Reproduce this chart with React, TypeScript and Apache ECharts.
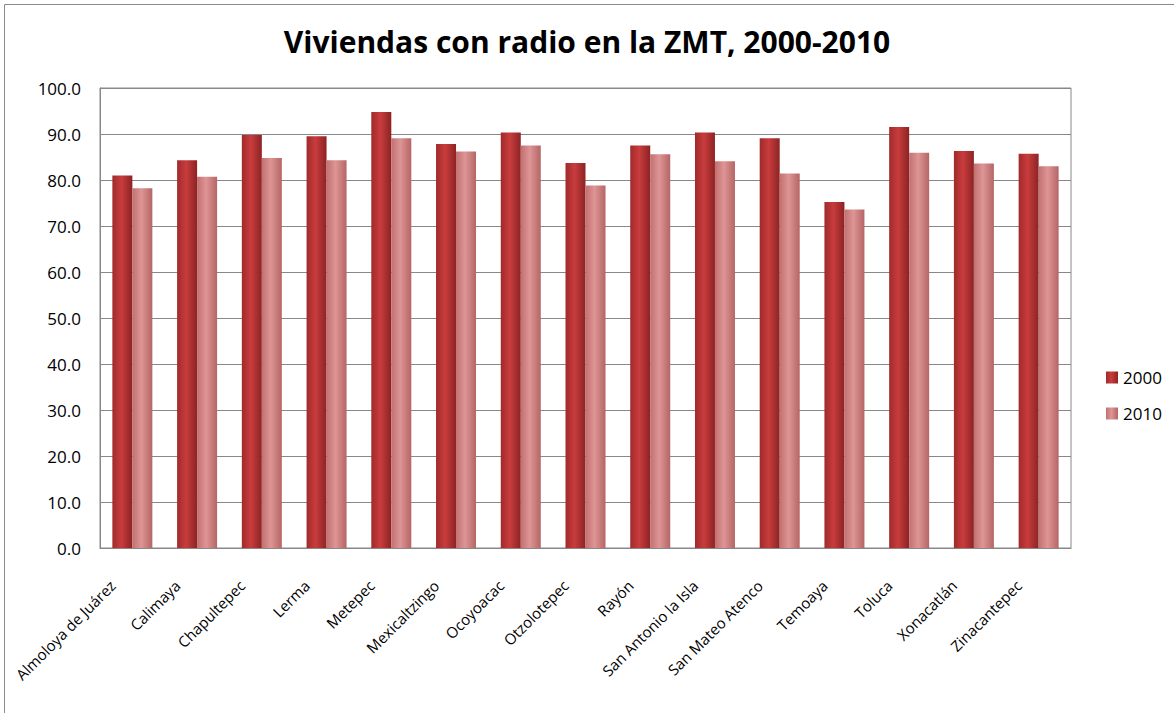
import React, { useEffect, useRef } from "react";
import * as echarts from "echarts";

const categories = [
  "Almoloya de Juárez",
  "Calimaya",
  "Chapultepec",
  "Lerma",
  "Metepec",
  "Mexicaltzingo",
  "Ocoyoacac",
  "Otzolotepec",
  "Rayón",
  "San Antonio la Isla",
  "San Mateo Atenco",
  "Temoaya",
  "Toluca",
  "Xonacatlán",
  "Zinacantepec",
];
const values2000 = [81.0, 84.3, 89.8, 89.5, 94.8, 87.8, 90.3, 83.7, 87.5, 90.3, 89.1, 75.2, 91.5, 86.3, 85.7];
const values2010 = [78.2, 80.7, 84.8, 84.3, 89.1, 86.2, 87.5, 78.8, 85.6, 84.1, 81.4, 73.6, 85.9, 83.6, 83.0];
const seriesNames = ["2000", "2010"];

const FONT = "'Open Sans', 'Liberation Sans', sans-serif";

export default function App() {
  const ref = useRef<HTMLDivElement>(null);
  useEffect(() => {
    if (!ref.current) return;
    const chart = echarts.init(ref.current, null, { renderer: "svg" });
    const grad = (a: string, b: string, c: string) =>
      new echarts.graphic.LinearGradient(0, 0, 1, 0, [
        { offset: 0, color: a },
        { offset: 0.45, color: b },
        { offset: 1, color: c },
      ]);
    chart.setOption({
      animation: false,
      backgroundColor: "#ffffff",
      textStyle: { fontFamily: FONT },
      title: {
        text: "Viviendas con radio en la ZMT, 2000-2010",
        left: "center",
        top: 21,
        textStyle: { fontFamily: FONT, fontSize: 30, fontWeight: "bold", color: "#000" },
      },
      graphic: [
        {
          type: "rect",
          shape: { x: 4.5, y: 4.5, width: 1300, height: 900 },
          style: { fill: "none", stroke: "#8a8a8a", lineWidth: 1 },
          silent: true,
        },
      ],
      legend: {
        orient: "vertical",
        left: 1101,
        top: 364,
        itemWidth: 12,
        itemHeight: 12,
        itemGap: 19,
        icon: "rect",
        textStyle: { fontFamily: FONT, fontSize: 17, color: "#000" },
        data: seriesNames,
      },
      grid: {
        left: 100,
        top: 88,
        right: 103,
        bottom: 165,
        show: true,
        borderColor: "#888888",
        borderWidth: 1,
      },
      xAxis: {
        type: "category",
        data: categories,
        axisLine: { show: true, lineStyle: { color: "#888888" } },
        axisTick: { show: false },
        axisLabel: {
          rotate: 45,
          interval: 0,
          margin: 15,
          padding: [0, 28, 0, 0],
          fontFamily: FONT,
          fontSize: 15,
          color: "#000",
        },
      },
      yAxis: {
        type: "value",
        min: 0,
        max: 100,
        interval: 10,
        axisLine: { show: true, lineStyle: { color: "#888888" } },
        axisTick: { show: false },
        splitLine: { lineStyle: { color: "#888888", width: 1 } },
        axisLabel: {
          formatter: (v: number) => v.toFixed(1),
          margin: 19,
          fontFamily: FONT,
          fontSize: 17,
          color: "#000",
        },
      },
      series: [
        {
          name: seriesNames[0],
          type: "bar",
          data: values2000,
          barWidth: 20,
          barGap: "0%",
          itemStyle: { color: grad("#a02a2b", "#c93c3d", "#8c2324") },
        },
        {
          name: seriesNames[1],
          type: "bar",
          data: values2010,
          barWidth: 20,
          itemStyle: { color: grad("#c27070", "#de9595", "#b56565") },
        },
      ],
    });
    return () => chart.dispose();
  }, []);
  return (
    <div
      ref={ref}
      style={{ position: "fixed", left: 0, top: 0, width: 1174, height: 713 }}
    />
  );
}
